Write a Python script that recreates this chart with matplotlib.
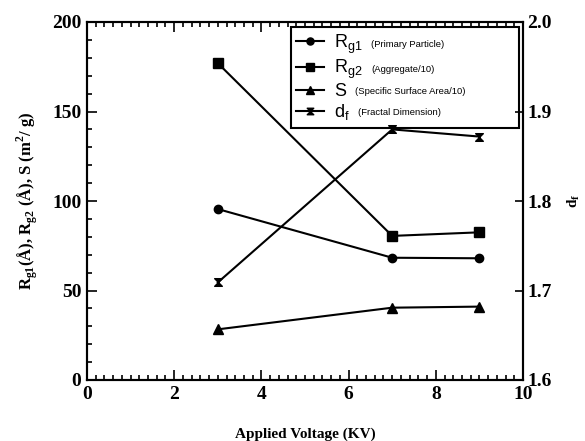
import numpy as np
import matplotlib
matplotlib.use('Agg')
import matplotlib.pyplot as plt
from matplotlib.path import Path
from matplotlib.ticker import MultipleLocator

# values
voltage = [3, 7, 9]
rg1 = [95.5, 68.3, 68.0]      # primary particle
rg2 = [177.0, 80.5, 82.5]     # aggregate / 10
surf = [28.3, 40.4, 41.0]     # specific surface area / 10
df = [1.709, 1.880, 1.872]    # fractal dimension

symbols = ['R$_{\\mathregular{g1}}$', 'R$_{\\mathregular{g2}}$', 'S', 'd$_{\\mathregular{f}}$']
notes = ['(Primary Particle)', '(Aggregate/10)', '(Specific Surface Area/10)', '(Fractal Dimension)']

serif = 'Liberation Serif'
sans = 'Liberation Sans'

# hourglass marker for d_f
hourglass = Path([(-1, 1), (1, 1), (-1, -1), (1, -1), (-1, 1)],
                 [Path.MOVETO, Path.LINETO, Path.LINETO, Path.LINETO, Path.CLOSEPOLY])

fig = plt.figure(figsize=(5.85, 4.41), dpi=100)
ax = fig.add_axes([87 / 585, 61 / 441, 436 / 585, 358 / 441])
ax2 = ax.twinx()

kw = dict(color='black', lw=1.5, mfc='black', mec='black')
h1, = ax.plot(voltage, rg1, marker='o', ms=6, **kw)
h2, = ax.plot(voltage, rg2, marker='s', ms=6.5, **kw)
h3, = ax.plot(voltage, surf, marker='^', ms=6.5, **kw)
h4, = ax2.plot(voltage, df, marker=hourglass, ms=5.5, **kw)

ax.set_xlim(0, 10)
ax.set_ylim(0, 200)
ax2.set_ylim(1.6, 2.0)

ax.xaxis.set_major_locator(MultipleLocator(2))
ax.xaxis.set_minor_locator(MultipleLocator(0.2))
ax.yaxis.set_major_locator(MultipleLocator(50))
ax.yaxis.set_minor_locator(MultipleLocator(10))
ax2.yaxis.set_major_locator(MultipleLocator(0.1))

ax.tick_params(which='both', direction='in', top=True, right=False, width=1.2)
ax.tick_params(which='major', length=7, pad=4)
ax.tick_params(which='minor', length=3.5)
ax2.tick_params(which='major', direction='in', length=6, width=1.2, pad=3)

for a in (ax, ax2):
    for sp in a.spines.values():
        sp.set_linewidth(1.5)
    for lab in a.get_xticklabels() + a.get_yticklabels():
        lab.set_fontfamily(serif)
        lab.set_fontweight('bold')
        lab.set_fontsize(14)

ax.set_xlabel('Applied Voltage (KV)', fontfamily=serif, fontweight='bold', fontsize=11, labelpad=18)
ax.set_ylabel('R$_{\\mathregular{g1}}$($\\mathregular{\\AA}$), R$_{\\mathregular{g2}}$ ($\\mathregular{\\AA}$), S (m$^{\\mathregular{2}}$/ g)',
              fontfamily=serif, fontweight='bold', fontsize=12, labelpad=9)
ax2.set_ylabel('d$_{\\mathregular{f}}$', fontfamily=serif, fontweight='bold', fontsize=11, labelpad=10)

leg = ax.legend([h1, h2, h3, h4], symbols, loc='upper left',
                bbox_to_anchor=(204 / 436, 250 / 358, 228 / 436, 103 / 358), mode='expand',
                prop={'family': sans, 'size': 13}, handlelength=1.5, handletextpad=0.6,
                labelspacing=0.12, borderpad=0.3, fancybox=False, framealpha=1,
                edgecolor='black', borderaxespad=0, markerscale=0.85)
leg.get_frame().set_linewidth(1.5)
leg.set_zorder(5)

for t, note in zip(leg.get_texts(), notes):
    ax.annotate(note, xy=(1, 0.5), xycoords=t, xytext=(6, 0), textcoords='offset points',
                va='center', ha='left', fontfamily=sans, fontsize=6.8, zorder=6)

fig.savefig('out.png', dpi=100)
